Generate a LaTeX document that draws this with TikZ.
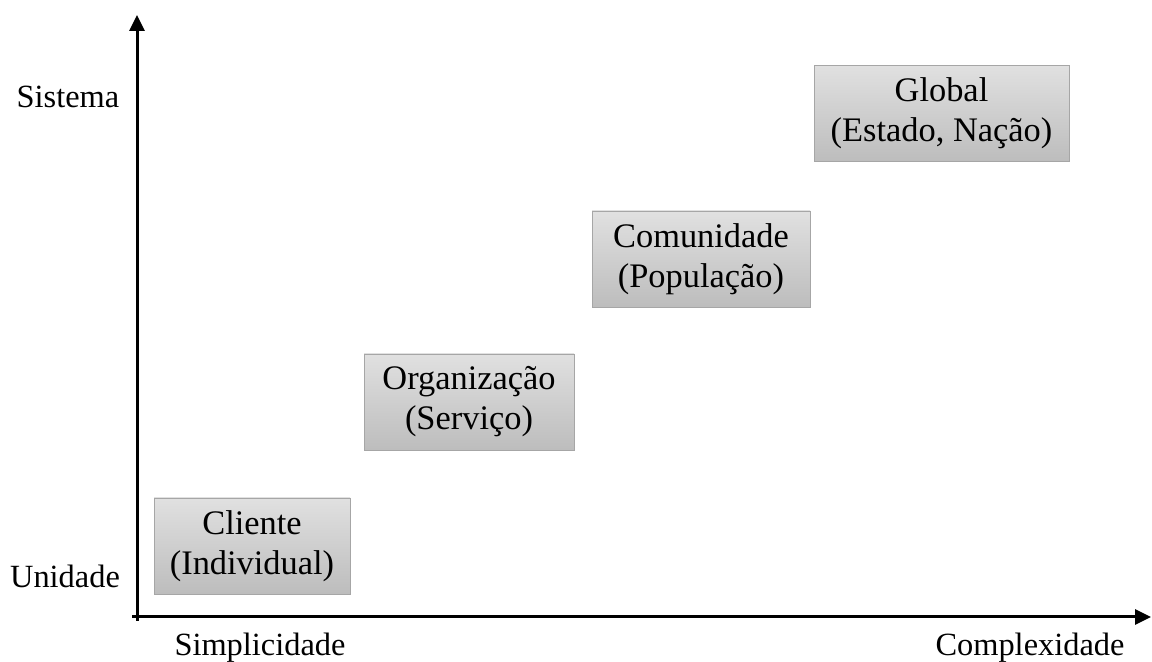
\documentclass[tikz,border=0pt]{standalone}
\usepackage{fontspec}
\setmainfont{Liberation Serif}
\usetikzlibrary{arrows.meta}
\tikzset{
x=0.5pt, y=-0.5pt, % one unit is one pixel of the layout, y grows downwards
axis/.style={line width=1.5pt, -{Triangle[length=8pt,width=7.5pt]}}, % the two axes
level/.style={draw=black!35, top color=black!12, bottom color=black!26, align=center,
  minimum height=48pt, inner sep=0pt, font=\fontsize{17.2}{20}\selectfont}, % the grey boxes
axlabel/.style={font=\fontsize{16.2}{18}\selectfont}, % texts along the axes
}
\begin{document}
\begin{tikzpicture}
    \useasboundingbox (0,0) rectangle (1152,662);
    \coordinate (origin) at (137,617);
    \coordinate (ytop) at (137,15);
    \coordinate (xend) at (1151,617);
    \coordinate (ystart) at (137,621);
    \coordinate (xstart) at (132,617);
    \draw[axis] (ystart) -- (ytop);
    \draw[axis] (xstart) -- (xend);
    \node[level, minimum width=98pt] (cliente) at (252,546) {Cliente\\(Individual)};
    \node[level, minimum width=105pt] (organizacao) at (469,402) {Organização\\(Serviço)};
    \node[level, minimum width=109pt] (comunidade) at (701,259) {Comunidade\\(População)};
    \node[level, minimum width=127.5pt] (global) at (941.5,113.5) {Global\\(Estado, Nação)};
    \node[axlabel] (sistema) at (68,97) {Sistema};
    \node[axlabel] (unidade) at (65,576) {Unidade};
    \node[axlabel] (simples) at (260,648) {Simplicidade};
    \node[axlabel] (complexo) at (1030,648) {Complexidade};
\end{tikzpicture}
\end{document}
